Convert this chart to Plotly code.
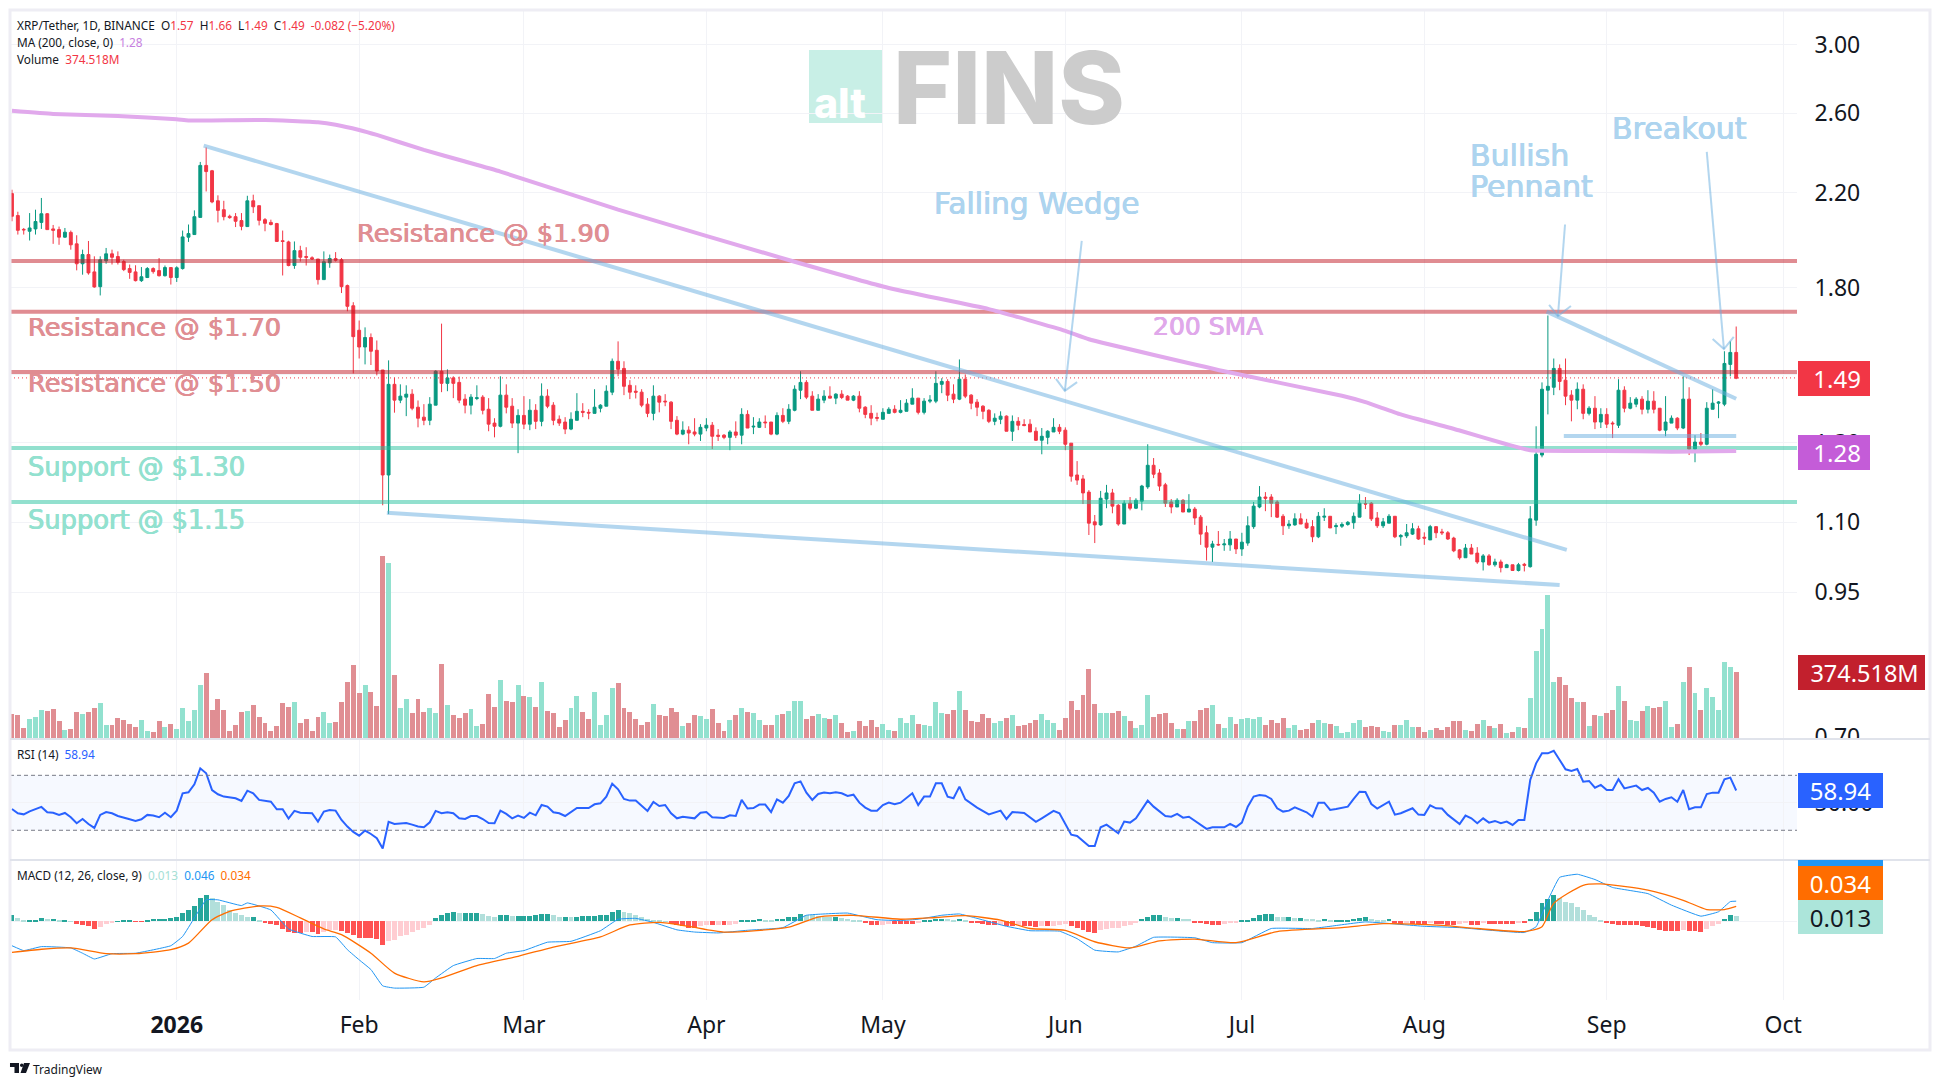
import math
import pandas as pd
import plotly.graph_objects as go

W, H = 1940, 1086
first_day = "2025-12-04"
x_start, x_end = "2025-12-03 16:00", "2026-10-03 08:00"

rising = ("DDDUUUDDDU" "DDUDDUUDDD" "DDUUDDUDUU" "UUUDDDDDDD" "UDDDDDDDUD"
          "DDDUUDDDDD" "UDDDUDUUDD" "DUUDUDDDUU" "DDDUDDUDUD" "UDDDDUUDDU"
          "UUUDDDDDDU" "DDDDUDDUUD" "DDUDUDUUDD" "UDUUUDDUUD" "UDDUDDDDUU"
          "DUUUDUUUUD" "DUDDDDDUUD" "UDDDDUUUDD" "DDDDDUUDDU" "DUUUDDDDUD"
          "UDDDUDUUDU" "UUUDDDDUUD" "DDUUDUUUUU" "DDDUUDUUUD" "DUDDDDDUDD"
          "UDUDUDUDUU" "UUUDDDUDUD" "UDDUDUUDUD" "DUUDUDUDUU" "UUUD")

highs = [2.213,2.113,2.042,2.107,2.122,2.175,2.107,2.055,2.048,2.042,
2.031,2.011,1.951,1.987,1.924,1.924,1.958,1.951,1.944,1.910,
1.891,1.888,1.881,1.881,1.880,1.917,1.887,1.881,1.884,2.031,
2.057,2.119,2.346,2.419,2.307,2.187,2.162,2.100,2.107,2.107,
2.185,2.190,2.140,2.085,2.078,2.064,2.031,1.988,1.985,1.967,
1.961,1.924,1.913,1.944,1.931,1.941,1.917,1.813,1.747,1.681,
1.657,1.636,1.612,1.515,1.546,1.491,1.470,1.467,1.455,1.421,
1.410,1.431,1.514,1.670,1.517,1.495,1.494,1.440,1.440,1.467,
1.437,1.428,1.369,1.495,1.470,1.428,1.395,1.434,1.425,1.410,
1.473,1.455,1.416,1.377,1.372,1.386,1.443,1.413,1.395,1.455,
1.410,1.467,1.552,1.609,1.543,1.483,1.467,1.455,1.428,1.467,
1.437,1.440,1.419,1.375,1.360,1.346,1.369,1.352,1.369,1.358,
1.338,1.324,1.335,1.360,1.398,1.392,1.372,1.369,1.377,1.358,
1.386,1.398,1.410,1.467,1.511,1.483,1.449,1.440,1.452,1.464,
1.443,1.452,1.437,1.437,1.449,1.404,1.407,1.385,1.398,1.401,
1.407,1.422,1.425,1.458,1.428,1.428,1.437,1.511,1.489,1.486,
1.470,1.549,1.501,1.440,1.425,1.407,1.395,1.383,1.389,1.377,
1.377,1.372,1.366,1.366,1.343,1.341,1.335,1.369,1.352,1.343,
1.299,1.251,1.215,1.177,1.117,1.175,1.190,1.180,1.143,1.152,
1.160,1.157,1.190,1.296,1.259,1.230,1.195,1.155,1.157,1.155,
1.167,1.136,1.117,1.092,1.058,1.080,1.062,1.080,1.062,1.076,
1.114,1.148,1.187,1.172,1.167,1.152,1.119,1.105,1.121,1.121,
1.108,1.105,1.124,1.133,1.114,1.098,1.100,1.103,1.123,1.167,
1.160,1.148,1.124,1.110,1.119,1.114,1.073,1.096,1.098,1.092,
1.077,1.094,1.090,1.085,1.080,1.067,1.040,1.051,1.051,1.044,
1.029,1.029,1.019,1.017,1.008,1.006,1.010,1.010,1.138,1.346,
1.476,1.699,1.552,1.533,1.552,1.452,1.476,1.470,1.404,1.434,
1.398,1.398,1.360,1.486,1.464,1.431,1.431,1.434,1.452,1.449,
1.398,1.434,1.377,1.372,1.495,1.461,1.321,1.327,1.416,1.455,
1.419,1.576,1.609,1.660]

body_tops = [2.195,2.096,2.036,2.042,2.070,2.104,2.104,2.038,2.035,2.024,
2.023,1.975,1.931,1.931,1.862,1.910,1.934,1.934,1.923,1.903,
1.875,1.862,1.843,1.875,1.875,1.867,1.879,1.879,1.878,2.004,
2.018,2.091,2.329,2.329,2.303,2.162,2.122,2.093,2.091,2.074,
2.162,2.162,2.140,2.078,2.066,2.061,1.988,1.983,1.947,1.947,
1.923,1.918,1.913,1.902,1.915,1.915,1.910,1.809,1.734,1.647,
1.622,1.622,1.579,1.515,1.470,1.470,1.434,1.440,1.440,1.401,
1.372,1.410,1.511,1.511,1.490,1.490,1.476,1.425,1.431,1.429,
1.431,1.395,1.355,1.437,1.437,1.404,1.377,1.377,1.392,1.392,
1.434,1.434,1.407,1.366,1.358,1.366,1.389,1.389,1.386,1.401,
1.407,1.449,1.543,1.543,1.520,1.467,1.449,1.446,1.410,1.434,
1.434,1.419,1.416,1.363,1.335,1.335,1.330,1.343,1.349,1.349,
1.321,1.321,1.330,1.330,1.380,1.380,1.346,1.358,1.358,1.358,
1.377,1.377,1.395,1.455,1.476,1.476,1.434,1.425,1.434,1.434,
1.440,1.440,1.434,1.434,1.434,1.401,1.383,1.371,1.386,1.395,
1.395,1.392,1.413,1.428,1.428,1.419,1.422,1.473,1.479,1.479,
1.440,1.486,1.486,1.437,1.416,1.404,1.392,1.369,1.375,1.375,
1.360,1.360,1.351,1.352,1.332,1.318,1.332,1.343,1.343,1.335,
1.299,1.215,1.205,1.172,1.101,1.157,1.170,1.170,1.140,1.145,
1.145,1.152,1.187,1.240,1.240,1.220,1.190,1.148,1.152,1.152,
1.131,1.131,1.112,1.076,1.051,1.050,1.051,1.062,1.062,1.055,
1.092,1.138,1.160,1.160,1.160,1.148,1.114,1.096,1.108,1.108,
1.098,1.090,1.114,1.114,1.114,1.092,1.095,1.100,1.114,1.145,
1.144,1.145,1.110,1.101,1.114,1.114,1.070,1.076,1.085,1.085,
1.066,1.090,1.090,1.078,1.076,1.064,1.038,1.042,1.042,1.031,
1.025,1.025,1.012,1.012,1.006,1.006,1.006,1.007,1.108,1.269,
1.455,1.464,1.520,1.520,1.483,1.437,1.455,1.455,1.398,1.398,
1.380,1.380,1.355,1.452,1.452,1.413,1.425,1.425,1.419,1.419,
1.398,1.358,1.369,1.369,1.425,1.425,1.302,1.302,1.398,1.413,
1.416,1.536,1.572,1.572]

body_bottoms = [2.093,2.032,2.034,2.028,2.038,2.066,2.035,2.032,2.003,2.003,
1.971,1.894,1.894,1.858,1.804,1.805,1.906,1.920,1.900,1.871,
1.860,1.828,1.828,1.840,1.863,1.847,1.847,1.840,1.840,1.875,
2.003,2.014,2.088,2.299,2.157,2.119,2.091,2.087,2.071,2.049,
2.048,2.135,2.075,2.062,2.057,1.985,1.985,1.887,1.887,1.920,
1.920,1.913,1.832,1.832,1.898,1.908,1.805,1.732,1.625,1.590,
1.590,1.576,1.512,1.215,1.215,1.422,1.422,1.431,1.398,1.369,
1.363,1.363,1.407,1.473,1.473,1.473,1.422,1.407,1.407,1.427,
1.392,1.352,1.346,1.346,1.401,1.355,1.355,1.352,1.352,1.360,
1.360,1.404,1.363,1.355,1.338,1.338,1.363,1.386,1.384,1.383,
1.398,1.404,1.446,1.517,1.464,1.446,1.446,1.407,1.383,1.383,
1.416,1.417,1.360,1.324,1.324,1.327,1.324,1.324,1.341,1.318,
1.318,1.315,1.315,1.321,1.321,1.341,1.344,1.343,1.356,1.324,
1.324,1.360,1.360,1.392,1.452,1.431,1.392,1.392,1.422,1.428,
1.428,1.430,1.422,1.422,1.398,1.380,1.369,1.369,1.366,1.383,
1.386,1.386,1.389,1.410,1.386,1.386,1.419,1.419,1.470,1.437,
1.425,1.425,1.434,1.413,1.401,1.389,1.360,1.360,1.366,1.332,
1.332,1.349,1.348,1.330,1.307,1.307,1.315,1.330,1.332,1.296,
1.212,1.202,1.170,1.098,1.094,1.094,1.155,1.138,1.096,1.096,
1.133,1.133,1.150,1.185,1.217,1.187,1.145,1.136,1.136,1.124,
1.124,1.110,1.073,1.044,1.044,1.049,1.049,1.049,1.040,1.040,
1.053,1.090,1.136,1.157,1.145,1.112,1.092,1.092,1.094,1.096,
1.087,1.067,1.067,1.112,1.087,1.090,1.091,1.095,1.099,1.112,
1.143,1.108,1.092,1.092,1.098,1.067,1.067,1.069,1.073,1.062,
1.064,1.060,1.076,1.076,1.062,1.036,1.021,1.021,1.029,1.012,
1.012,1.006,1.006,1.000,1.000,0.994,0.994,1.005,1.002,1.105,
1.267,1.452,1.461,1.479,1.434,1.422,1.422,1.383,1.383,1.358,
1.358,1.352,1.353,1.349,1.398,1.398,1.410,1.395,1.395,1.395,
1.335,1.335,1.355,1.341,1.341,1.283,1.283,1.296,1.296,1.395,
1.413,1.410,1.533,1.489]

lows = [2.071,2.014,2.014,1.989,2.014,2.038,2.035,1.975,1.971,2.000,
1.951,1.868,1.851,1.851,1.801,1.772,1.894,1.891,1.891,1.865,
1.835,1.825,1.823,1.838,1.855,1.844,1.844,1.813,1.823,1.871,
1.983,2.014,2.088,2.205,2.151,2.066,2.075,2.082,2.046,2.032,
2.047,2.107,2.053,2.028,2.053,1.983,1.848,1.884,1.874,1.903,
1.887,1.910,1.813,1.832,1.878,1.903,1.781,1.714,1.504,1.552,
1.533,1.531,1.498,1.140,1.119,1.385,1.413,1.375,1.392,1.343,
1.349,1.349,1.407,1.446,1.449,1.428,1.413,1.383,1.380,1.422,
1.380,1.332,1.315,1.343,1.383,1.341,1.272,1.338,1.335,1.338,
1.346,1.398,1.349,1.347,1.324,1.335,1.363,1.372,1.366,1.383,
1.386,1.404,1.437,1.495,1.437,1.425,1.427,1.401,1.372,1.363,
1.386,1.404,1.338,1.321,1.321,1.296,1.318,1.305,1.332,1.283,
1.305,1.310,1.280,1.313,1.296,1.341,1.324,1.341,1.341,1.321,
1.321,1.355,1.352,1.389,1.425,1.425,1.392,1.392,1.413,1.428,
1.410,1.425,1.422,1.419,1.386,1.369,1.349,1.360,1.366,1.383,
1.383,1.383,1.389,1.410,1.380,1.380,1.413,1.413,1.443,1.419,
1.413,1.422,1.428,1.395,1.375,1.366,1.355,1.349,1.352,1.332,
1.305,1.335,1.346,1.330,1.305,1.269,1.296,1.330,1.324,1.280,
1.198,1.190,1.143,1.071,1.053,1.092,1.133,1.121,1.092,1.096,
1.128,1.131,1.128,1.180,1.207,1.175,1.136,1.121,1.136,1.124,
1.124,1.094,1.049,1.015,1.012,1.047,1.036,1.036,1.029,1.025,
1.047,1.085,1.133,1.126,1.112,1.110,1.071,1.085,1.092,1.096,
1.085,1.055,1.064,1.103,1.087,1.073,1.087,1.092,1.085,1.112,
1.131,1.103,1.087,1.087,1.098,1.064,1.047,1.064,1.071,1.060,
1.049,1.060,1.064,1.071,1.060,1.033,1.017,1.021,1.029,1.008,
0.994,1.004,1.002,0.990,1.000,0.994,0.992,0.992,1.000,1.092,
1.261,1.380,1.437,1.452,1.407,1.360,1.395,1.366,1.377,1.338,
1.341,1.341,1.313,1.341,1.386,1.395,1.401,1.380,1.383,1.383,
1.332,1.318,1.355,1.335,1.338,1.267,1.248,1.291,1.293,1.395,
1.369,1.404,1.495,1.486]

volumes = [137,132,58,109,120,160,154,166,98,47,
53,149,137,149,171,199,75,75,115,104,
81,64,104,41,36,98,64,81,53,171,
98,160,301,369,160,222,160,41,75,149,
154,188,120,87,41,70,199,177,205,87,
109,41,120,149,87,92,205,318,414,256,
301,262,183,1029,990,358,171,222,143,222,
149,171,143,420,188,132,115,143,166,70,
81,250,177,329,211,205,301,239,233,177,
318,154,143,64,104,171,239,149,109,262,
75,132,284,312,171,149,109,75,92,194,
132,126,171,149,70,87,132,126,109,166,
87,41,104,132,171,149,143,104,75,75,
132,137,154,211,211,109,126,137,115,109,
132,87,36,41,98,70,104,64,81,47,
41,115,87,132,81,75,70,205,143,137,
160,267,160,98,92,137,115,87,98,115,
132,70,75,87,104,137,104,87,47,115,
211,160,245,391,194,143,143,143,154,126,
98,58,75,245,120,137,143,87,53,53,
98,98,160,171,188,81,58,120,81,109,
115,109,120,75,104,87,115,58,75,47,
53,87,104,87,81,70,30,36,87,104,
64,70,64,41,36,75,75,104,64,64,
36,47,58,47,64,98,98,47,41,81,
104,70,58,81,30,36,64,58,228,493,
617,809,318,346,301,228,205,205,70,132,
126,143,160,295,211,104,98,154,183,171,
177,211,64,81,318,403,256,160,284,233,
160,431,403,374.518]

rsi_days = [1,2,3,4,6,7,8,9,10,11,12,13,14,15,16,17,18,19,21,22,23,24,25,26,27,28,29,30,31,32,33,34,35,36,37,39,40,41,42,43,45,46,47,48,49,50,52,53,54,55,56,57,58,59,60,61,62,63,64,65,66,68,69,70,71,72,73,74,75,76,77,78,79,80,81,82,83,84,85,86,87,88,89,90,91,92,93,94,95,97,99,100,101,102,103,104,105,106,107,108,109,110,111,112,113,114,115,117,118,119,120,122,123,124,125,126,127,128,129,130,131,132,133,134,135,136,137,138,139,140,141,142,143,144,145,146,147,148,149,150,151,152,
154,155,156,157,158,159,160,161,162,163,164,165,167,169,170,171,173,175,176,178,179,180,181,182,184,185,186,187,189,190,191,192,194,195,197,198,199,200,201,204,205,207,208,209,210,211,212,213,214,215,216,217,218,219,221,222,223,224,225,226,228,229,230,231,232,233,235,236,237,239,240,241,242,243,244,245,247,248,249,250,251,252,253,254,255,256,257,258,259,260,261,262,263,264,265,266,267,268,269,270,271,272,273,274,275,277,278,279,280,281,282,283,284,285,286,287,288,289,290,291,292,293,294]
rsi_values = [45.5,42.4,41.6,43.8,47.0,43.1,42.8,41.2,42.6,39.5,35.1,38.2,34.6,31.7,41.2,43.3,42.4,40.4,38,36.8,38,41.2,40.7,39.5,42.8,39.5,44.3,56.9,57.6,63.5,75.1,71.5,59.3,56.2,54.5,53.3,51.3,58.8,56.9,52.1,50.8,45.3,45.3,38.5,44.1,42.8,42.4,36.3,43.6,44.8,44.3,37.5,32.7,28.8,26.1,29.8,27.3,24.2,16.7,36.1,34.6,35.3,34.1,32.7,32.2,35.8,44.1,42.4,43.1,42.4,38.7,38.2,40.4,40.4,38.2,35.3,35.1,44.3,41.9,38.7,40.7,39,42.8,40.9,48.4,47.2,43.1,42.4,40.4,46.2,46.2,48.9,49.6,54.5,63.9,59.8,52.8,51.6,51.6,47.7,44.1,50.6,47.7,48.4,42.4,38.7,39.9,38.7,42.8,43.3,39.5,39,40.9,40.4,52.1,45.8,46.2,48.7,48.7,43.3,52.5,50.1,55,64.2,65.6,57.4,52.1,56.4,57.4,56.9,57.6,56.9,55,55.9,50.1,46.5,44.3,44.3,48.4,50.1,48.9,50.1,
56.9,48.4,54.5,54.5,64.2,64.2,54.5,53.3,61.8,52.5,49.6,46.5,41.6,44.3,38.2,43.3,42.6,36.1,38.7,44.1,42.4,35.1,26.8,25.9,18.6,18.6,32.2,34.1,27.8,36.3,35.6,38.7,51.6,47.2,40.4,39.9,41.9,39.2,39.9,31,32.2,32.2,34.6,32.4,35.6,47.2,54.5,55.7,55.2,52.8,46,43.6,44.3,46.7,43.1,39.9,50.1,50.1,44.8,45.5,47.2,52.8,58.1,57.9,49.1,45.8,50.8,41.4,42.4,46,41.4,41.2,48.2,46,45.8,41.2,34.6,40.7,38.7,35.1,38.7,35.6,36.8,35.1,36.3,33.9,37.5,37.5,66.6,78.7,86,86,87.9,81.2,74.4,73.2,74.6,65.4,65.9,61,63,59.3,59.3,67.1,60.5,62.5,59.3,60.8,57.4,50.8,52.8,54,50.8,59.3,45.3,46.7,46.7,56.4,57.4,57.4,67.1,68.3,58.94]

macd_days = [1,3,6,11,13,15,18,22,28,30,32,34,36,40,41,45,48,52,56,58,60,62,64,66,71,73,76,80,83,85,88,92,96,101,104,107,110,114,117,121,126,132,136,139,143,148,152,
155,159,162,165,170,174,179,182,185,189,192,195,202,205,210,215,222,225,231,241,247,258,260,262,264,267,270,273,279,283,288,291,293,294]
macd_values = [-.055,-.066,-.057,-.060,-.072,-.085,-.073,-.072,-.055,-.034,.008,.049,.049,.036,.042,.026,-.017,-.034,-.035,-.064,-.087,-.109,-.146,-.151,-.149,-.128,-.100,-.084,-.084,-.072,-.066,-.047,-.045,-.021,.005,.007,-.002,-.019,-.024,-.026,-.020,-.014,.014,.017,.019,.004,.002,
.005,.014,.017,.007,-.011,-.021,-.022,-.039,-.065,-.069,-.056,-.036,-.037,-.048,-.048,-.016,-.016,-.011,-.001,-.011,-.014,-.025,-.012,.048,.100,.107,.095,.077,.063,.037,.012,.022,.045,.046]
signal_days = [1,6,11,17,22,28,31,35,38,43,46,50,54,57,62,66,71,74,80,87,93,101,106,111,116,122,133,138,144,152,
158,163,169,174,180,185,191,196,202,209,216,227,234,244,250,258,261,263,268,271,279,285,289,292,294]
signal_values = [-.070,-.063,-.060,-.073,-.073,-.064,-.049,.004,.023,.035,.032,.008,-.017,-.030,-.072,-.117,-.137,-.128,-.100,-.079,-.058,-.035,-.008,-.002,-.011,-.024,-.013,.010,.014,.005,
.009,.013,.003,-.016,-.020,-.046,-.060,-.044,-.040,-.048,-.023,-.014,-.005,-.009,-.016,-.023,-.012,.041,.082,.085,.071,.048,.027,.027,.034]
hist_values = [.015,.008,.004,.004,.004,.008,.005,.005,.004,.004,
.001,-.006,-.009,-.011,-.017,-.013,-.006,-.003,.001,.002,
.002,-.001,-.001,.002,.005,.005,.005,.008,.010,.019,
.026,.034,.053,.060,.053,.045,.038,.026,.019,.014,
.011,.011,.004,-.003,-.005,-.009,-.017,-.023,-.026,-.026,
-.023,-.024,-.029,-.023,-.020,-.019,-.021,-.026,-.030,-.038,
-.038,-.038,-.039,-.054,-.045,-.042,-.034,-.030,-.023,-.019,
-.015,-.009,.008,.014,.019,.021,.020,.020,.020,.020,
.017,.012,.011,.015,.015,.013,.013,.013,.013,.014,
.017,.017,.014,.011,.011,.009,.011,.013,.013,.013,
.014,.015,.021,.025,.021,.019,.015,.009,.005,.004,
.002,.001,-.006,-.009,-.011,-.014,-.015,-.011,-.009,-.009,
-.008,-.008,-.007,-.006,.002,.002,.004,.005,.004,.002,
.005,.006,.009,.011,.017,.015,.014,.012,.011,.010,
.010,.008,.006,.004,.002,-.002,-.008,-.009,-.008,-.006,
-.006,-.006,-.006,-.006,-.004,.002,.002,.005,.006,.005,
.004,.005,.002,-.002,-.004,-.006,-.009,-.009,-.008,-.011,
-.011,-.009,-.010,-.011,-.013,-.010,-.011,-.010,-.009,-.006,
-.011,-.014,-.019,-.023,-.026,-.019,-.017,-.015,-.014,-.011,
-.009,-.004,.005,.009,.014,.015,.011,.008,.008,.006,
.005,-.002,-.002,-.005,-.008,-.009,-.005,-.004,-.003,.002,
.002,.007,.014,.017,.018,.011,.010,.010,.008,.008,
.006,.005,.003,.005,.004,.004,.004,.004,.005,.008,
.009,.005,.004,.003,.005,-.002,-.005,-.004,-.005,-.006,
-.007,-.004,-.005,-.005,-.007,-.007,-.006,-.004,-.007,-.008,
-.003,-.005,-.005,-.005,-.005,-.005,-.004,-.004,.005,.021,
.042,.051,.060,.054,.045,.042,.032,.026,.015,.009,
.003,-.002,-.005,-.007,-.008,-.008,-.009,-.010,-.012,-.015,
-.019,-.021,-.021,-.021,-.019,-.021,-.022,-.024,-.018,-.011,
-.006,.006,.014,.013]

ma200_days = [1,8,19,29,31,44,53,56,60,63,71,78,84,104,134,150,167,180,184,207,227,231,237,247,255,259,272,283,294]
ma200_values = [2.612,2.595,2.584,2.566,2.560,2.562,2.550,2.537,2.509,2.483,2.406,2.348,2.299,2.122,1.902,1.800,1.722,1.645,1.616,1.511,1.435,1.416,1.380,1.334,1.296,1.280,1.278,1.276,1.278]

resistance_levels = [1.905, 1.712, 1.509]
support_levels = [1.286, 1.148]
last_price = 1.49

wedge_top = (["2026-01-05 14:00", "2026-08-25 05:00"], [2.428, 1.038])
wedge_bottom = (["2026-02-05 17:00", "2026-08-24 00:00"], [1.122, 0.964])
pennant_top = (["2026-08-21 19:00", "2026-09-23 00:00"], [1.713, 1.426])
pennant_bottom = (["2026-08-24 17:00", "2026-09-23 00:00"], [1.319, 1.319])
arrows = [
    (["2026-06-03 19:00", "2026-05-31 22:00"], [1.987, 1.450]),
    (["2026-05-30 10:00", "2026-05-31 22:00", "2026-06-03 00:00"], [1.487, 1.450, 1.477]),
    (["2026-08-24 22:00", "2026-08-23 17:00"], [2.057, 1.697]),
    (["2026-08-22 05:00", "2026-08-23 17:00", "2026-08-25 22:00"], [1.737, 1.697, 1.733]),
    (["2026-09-18 00:00", "2026-09-20 22:00"], [2.396, 1.583]),
    (["2026-09-19 00:00", "2026-09-20 22:00", "2026-09-22 14:00"], [1.617, 1.583, 1.624]),
]

month_ticks = ["2026-01-01","2026-02-01","2026-03-01","2026-04-01","2026-05-01","2026-06-01","2026-07-01","2026-08-01","2026-09-01","2026-10-01"]
month_labels = ["<b>2026</b>","Feb","Mar","Apr","May","Jun","Jul","Aug","Sep","Oct"]
price_ticks = [3.0,2.6,2.2,1.8,1.5,1.3,1.1,0.95,0.7]
price_labels = ["3.00","2.60","2.20","1.80","1.50","1.30","1.10","0.95","0.70"]

assert all(len(a) == 294 for a in (rising, highs, body_tops, body_bottoms, lows, volumes, hist_values))
assert len(rsi_days) == len(rsi_values) and len(macd_days) == len(macd_values) and len(signal_days) == len(signal_values)

dates = list(pd.date_range(first_day, periods=294, freq="D"))
opens = [b if r == "U" else t for r, t, b in zip(rising, body_tops, body_bottoms)]
closes = [t if r == "U" else b for r, t, b in zip(rising, body_tops, body_bottoms)]
pick = lambda days: [dates[d - 1] for d in days]

UP, DOWN = "#089981", "#f23645"
VOL_UP, VOL_DOWN = "#92e1cf", "#e08e93"
RED_LINE = "rgba(193,25,37,0.5)"
GREEN_LINE = "rgba(37,193,157,0.5)"
BLUE_LINE = "rgba(103,173,223,0.5)"
PURPLE_LINE = "#e1a9ec"
TEXT = "#131722"
FONT = "Noto Sans"

px = lambda v: v / W
py = lambda v: 1 - v / H

fig = go.Figure()
fig.add_trace(go.Bar(x=dates, y=volumes, width=0.84 * 86400000, yaxis="y", xaxis="x",
                     marker=dict(color=[VOL_UP if r == "U" else VOL_DOWN for r in rising], line_width=0)))
fig.add_trace(go.Candlestick(x=dates, open=opens, high=highs, low=lows, close=closes, yaxis="y2", xaxis="x",
                             whiskerwidth=0,
                             increasing=dict(line=dict(color=UP, width=1), fillcolor=UP),
                             decreasing=dict(line=dict(color=DOWN, width=1), fillcolor=DOWN)))
fig.add_trace(go.Scatter(x=[x_start, x_end], y=[last_price, last_price], mode="lines", yaxis="y2", xaxis="x",
                         line=dict(color=DOWN, width=1, dash="1px,3px")))
for level in resistance_levels:
    fig.add_trace(go.Scatter(x=[x_start, x_end], y=[level, level], mode="lines", yaxis="y2", xaxis="x",
                             line=dict(color=RED_LINE, width=4)))
for level in support_levels:
    fig.add_trace(go.Scatter(x=[x_start, x_end], y=[level, level], mode="lines", yaxis="y2", xaxis="x",
                             line=dict(color=GREEN_LINE, width=4)))
fig.add_trace(go.Scatter(x=pick(ma200_days), y=ma200_values, mode="lines", yaxis="y2", xaxis="x",
                         line=dict(color=PURPLE_LINE, width=4, shape="spline", smoothing=0.4)))
for xs, ys in (wedge_top, wedge_bottom, pennant_top, pennant_bottom):
    fig.add_trace(go.Scatter(x=xs, y=ys, mode="lines", yaxis="y2", xaxis="x",
                             line=dict(color=BLUE_LINE, width=4)))
for xs, ys in arrows:
    fig.add_trace(go.Scatter(x=xs, y=ys, mode="lines", yaxis="y2", xaxis="x",
                             line=dict(color=BLUE_LINE, width=2)))

fig.add_trace(go.Scatter(x=pick(rsi_days), y=rsi_values, mode="lines", xaxis="x2", yaxis="y3",
                         line=dict(color="#2962ff", width=2)))

hist_colors = []
for i, v in enumerate(hist_values):
    prev = hist_values[i - 1] if i else v
    if v >= 0:
        hist_colors.append("#26a69a" if v >= prev else "#b2dfdb")
    else:
        hist_colors.append("#ff5252" if v <= prev else "#ffcdd2")
fig.add_trace(go.Bar(x=dates, y=hist_values, width=0.84 * 86400000, xaxis="x3", yaxis="y4",
                     marker=dict(color=hist_colors, line_width=0)))
fig.add_trace(go.Scatter(x=pick(macd_days), y=macd_values, mode="lines", xaxis="x3", yaxis="y4",
                         line=dict(color="#2196f3", width=1, shape="spline", smoothing=0.3)))
fig.add_trace(go.Scatter(x=pick(signal_days), y=signal_values, mode="lines", xaxis="x3", yaxis="y4",
                         line=dict(color="#ff6d00", width=1.3, shape="spline", smoothing=0.6)))

GRID = "#f2f3f7"
x_dom = [px(10), px(1797)]
x_common = dict(type="date", range=[x_start, x_end], domain=x_dom, tickmode="array", tickvals=month_ticks,
                ticktext=month_labels, showgrid=True, gridcolor=GRID, gridwidth=1, zeroline=False, showline=False)
tick_font = dict(family=FONT, size=23, color=TEXT)
fig.update_layout(
    width=W, height=H, margin=dict(l=0, r=0, t=0, b=0, autoexpand=False), autosize=False,
    paper_bgcolor="white", plot_bgcolor="rgba(0,0,0,0)", showlegend=False, hovermode=False,
    barmode="overlay", bargap=0,
    xaxis=dict(**x_common, anchor="y", showticklabels=False, rangeslider=dict(visible=False)),
    xaxis2=dict(**x_common, anchor="y3", showticklabels=False),
    xaxis3=dict(**x_common, anchor="y4", showticklabels=True, tickfont=tick_font, ticks="outside",
                ticklen=4, tickcolor="rgba(0,0,0,0)"),
    yaxis=dict(domain=[py(738), py(11)], range=[0, 4105], visible=False, anchor="x"),
    yaxis2=dict(domain=[py(738), py(11)], type="log", range=[math.log10(0.699), math.log10(3.222)],
                overlaying="y", anchor="x", side="right", tickmode="array", tickvals=price_ticks,
                ticktext=price_labels, showgrid=True, gridcolor=GRID, zeroline=False, showline=False,
                tickfont=tick_font, ticks="outside", ticklen=12, tickcolor="rgba(0,0,0,0)"),
    yaxis3=dict(domain=[py(859), py(740)], range=[9.1, 95.7], anchor="x2", side="right", tickmode="array",
                tickvals=[50], ticktext=["50.00"], showgrid=True, gridcolor=GRID, zeroline=False, showline=False,
                tickfont=tick_font, ticks="outside", ticklen=12, tickcolor="rgba(0,0,0,0)"),
    yaxis4=dict(domain=[py(1000), py(861)], range=[-0.178, 0.137], anchor="x3", side="right", tickmode="array",
                tickvals=[0], ticktext=[""], showgrid=True, gridcolor=GRID, zeroline=False, showline=False),
)

def paper_rect(x0, y0, x1, y1, **kw):
    return dict(type="rect", xref="paper", yref="paper", x0=px(x0), x1=px(x1), y0=py(y1), y1=py(y0), **kw)

shapes = [
    dict(type="rect", xref="x2 domain", yref="y3", x0=0, x1=1, y0=30, y1=70, fillcolor="#f6f9ff", line_width=0, layer="below"),
    dict(type="line", xref="x2 domain", yref="y3", x0=0, x1=1, y0=70, y1=70, line=dict(color="#787b86", width=1, dash="4px,3px")),
    dict(type="line", xref="x2 domain", yref="y3", x0=0, x1=1, y0=30, y1=30, line=dict(color="#787b86", width=1, dash="4px,3px")),
    paper_rect(1798, 738, 1928, 752, fillcolor="white", line_width=0, layer="above"),
    paper_rect(10, 10, 1930, 1050, line=dict(color="#eeedf4", width=3), fillcolor="rgba(0,0,0,0)", layer="above"),
    dict(type="line", xref="paper", yref="paper", x0=px(10), x1=px(1930), y0=py(739), y1=py(739), line=dict(color="#e0e3eb", width=2), layer="above"),
    dict(type="line", xref="paper", yref="paper", x0=px(10), x1=px(1930), y0=py(860), y1=py(860), line=dict(color="#e0e3eb", width=2), layer="above"),
    paper_rect(809, 50, 883, 123, fillcolor="#c8efe6", line_width=0, layer="below"),
    dict(type="path", xref="paper", yref="paper",
         path=" ".join(f"{c}{px(a):.5f},{py(b):.5f}" for c, a, b in
                       [("M", 10, 1063), ("L", 19, 1063), ("L", 19, 1073), ("L", 14.5, 1073), ("L", 14.5, 1067), ("L", 10, 1067)]) + " Z",
         fillcolor="#131722", line_width=0),
    dict(type="path", xref="paper", yref="paper",
         path=" ".join(f"{c}{px(a):.5f},{py(b):.5f}" for c, a, b in
                       [("M", 24, 1063), ("L", 30, 1063), ("L", 26, 1073), ("L", 20.5, 1073)]) + " Z",
         fillcolor="#131722", line_width=0),
    dict(type="circle", xref="paper", yref="paper", x0=px(20), x1=px(23.5), y0=py(1067), y1=py(1063.5), fillcolor="#131722", line_width=0),
]
ann = []
def label(x, y, text, size, color, anchor="left", family="DejaVu Sans", shadow=None, weight=None):
    font = dict(family=family, size=size, color=color)
    if shadow:
        font["shadow"] = f"0.5px 0 0 {color}, -0.4px 0 0 {color}"
    if weight:
        font["weight"] = weight
    ann.append(dict(xref="paper", yref="paper", x=px(x), y=py(y), text=text, showarrow=False, xanchor=anchor,
                    yanchor="middle", font=font))

def tag(x0, x1, y0, y1, text, bg, fg="white", size=24):
    ann.append(dict(xref="paper", yref="paper", x=px(x0), y=py((y0 + y1) / 2), xanchor="left", yanchor="middle",
                    width=x1 - x0, height=y1 - y0, text=text, showarrow=False, bgcolor=bg, borderpad=0, borderwidth=0,
                    align="center", valign="middle", font=dict(family=FONT, size=size, color=fg)))

RES_TXT, SUP_TXT, BLUE_TXT, PURPLE_TXT = "#e08e93", "#92e1cf", "#add4ef", "#e0a8ea"
label(355, 233, "Resistance @ $1.90", 25.6, RES_TXT, shadow=True)
label(26, 327, "Resistance @ $1.70", 25.6, RES_TXT, shadow=True)
label(26, 383, "Resistance @ $1.50", 25.6, RES_TXT, shadow=True)
label(26, 467, "Support @ $1.30", 25.7, SUP_TXT, shadow=True)
label(26, 520, "Support @ $1.15", 25.7, SUP_TXT, shadow=True)
label(932, 204, "Falling Wedge", 29.6, BLUE_TXT, shadow=True)
label(1468, 155, "Bullish", 30, BLUE_TXT, shadow=True)
label(1468, 187, "Pennant", 30, BLUE_TXT, shadow=True)
label(1610, 129, "Breakout", 30, BLUE_TXT, shadow=True)
label(1151, 326, "200 SMA", 25, PURPLE_TXT, shadow=True)

label(891, 87, "FINS", 101, "#cccccc", family="Inter", weight=800)
label(812, 103, "alt", 41, "white", family="Inter", weight=800)

GREY = TEXT
label(15, 25, f"XRP/Tether, 1D, BINANCE  O<span style='color:{DOWN}'>1.57</span>  H<span style='color:{DOWN}'>1.66</span>  L<span style='color:{DOWN}'>1.49</span>  C<span style='color:{DOWN}'>1.49</span>  <span style='color:{DOWN}'>-0.082 (−5.20%)</span>", 11.8, GREY, family=FONT)
label(15, 42, "MA (200, close, 0)  <span style='color:#c77fe0'>1.28</span>", 11.8, GREY, family=FONT)
label(15, 59, f"Volume  <span style='color:{DOWN}'>374.518M</span>", 11.8, GREY, family=FONT)
label(15, 754, "RSI (14)  <span style='color:#2962ff'>58.94</span>", 11.8, GREY, family=FONT)
label(15, 875, "MACD (12, 26, close, 9)  <span style='color:#a5e0d5'>0.013</span>  <span style='color:#2196f3'>0.046</span>  <span style='color:#ff6d00'>0.034</span>", 11.8, GREY, family=FONT)
label(31, 1069, "TradingView", 12, "#131722", family=FONT)

tag(1798, 1870, 361, 396, "&nbsp;1.49", "#f23645")
tag(1798, 1870, 435, 470, "&nbsp;1.28", "#c45cd8")
tag(1798, 1925, 655, 690, "&nbsp;374.518M", "#c2202d", size=23.5)
tag(1798, 1883, 773, 808, "58.94", "#2962ff")
tag(1798, 1883, 860, 866, "", "#2196f3")
tag(1798, 1883, 866, 900, "0.034", "#ff6d00")
tag(1798, 1883, 900, 934, "0.013", "#ace5da", fg="#131722")

fig.update_layout(shapes=shapes, annotations=ann)
fig.write_html("out.html", config=dict(displayModeBar=False),
               post_script="document.body.style.margin='0';document.body.style.overflow='hidden';")
